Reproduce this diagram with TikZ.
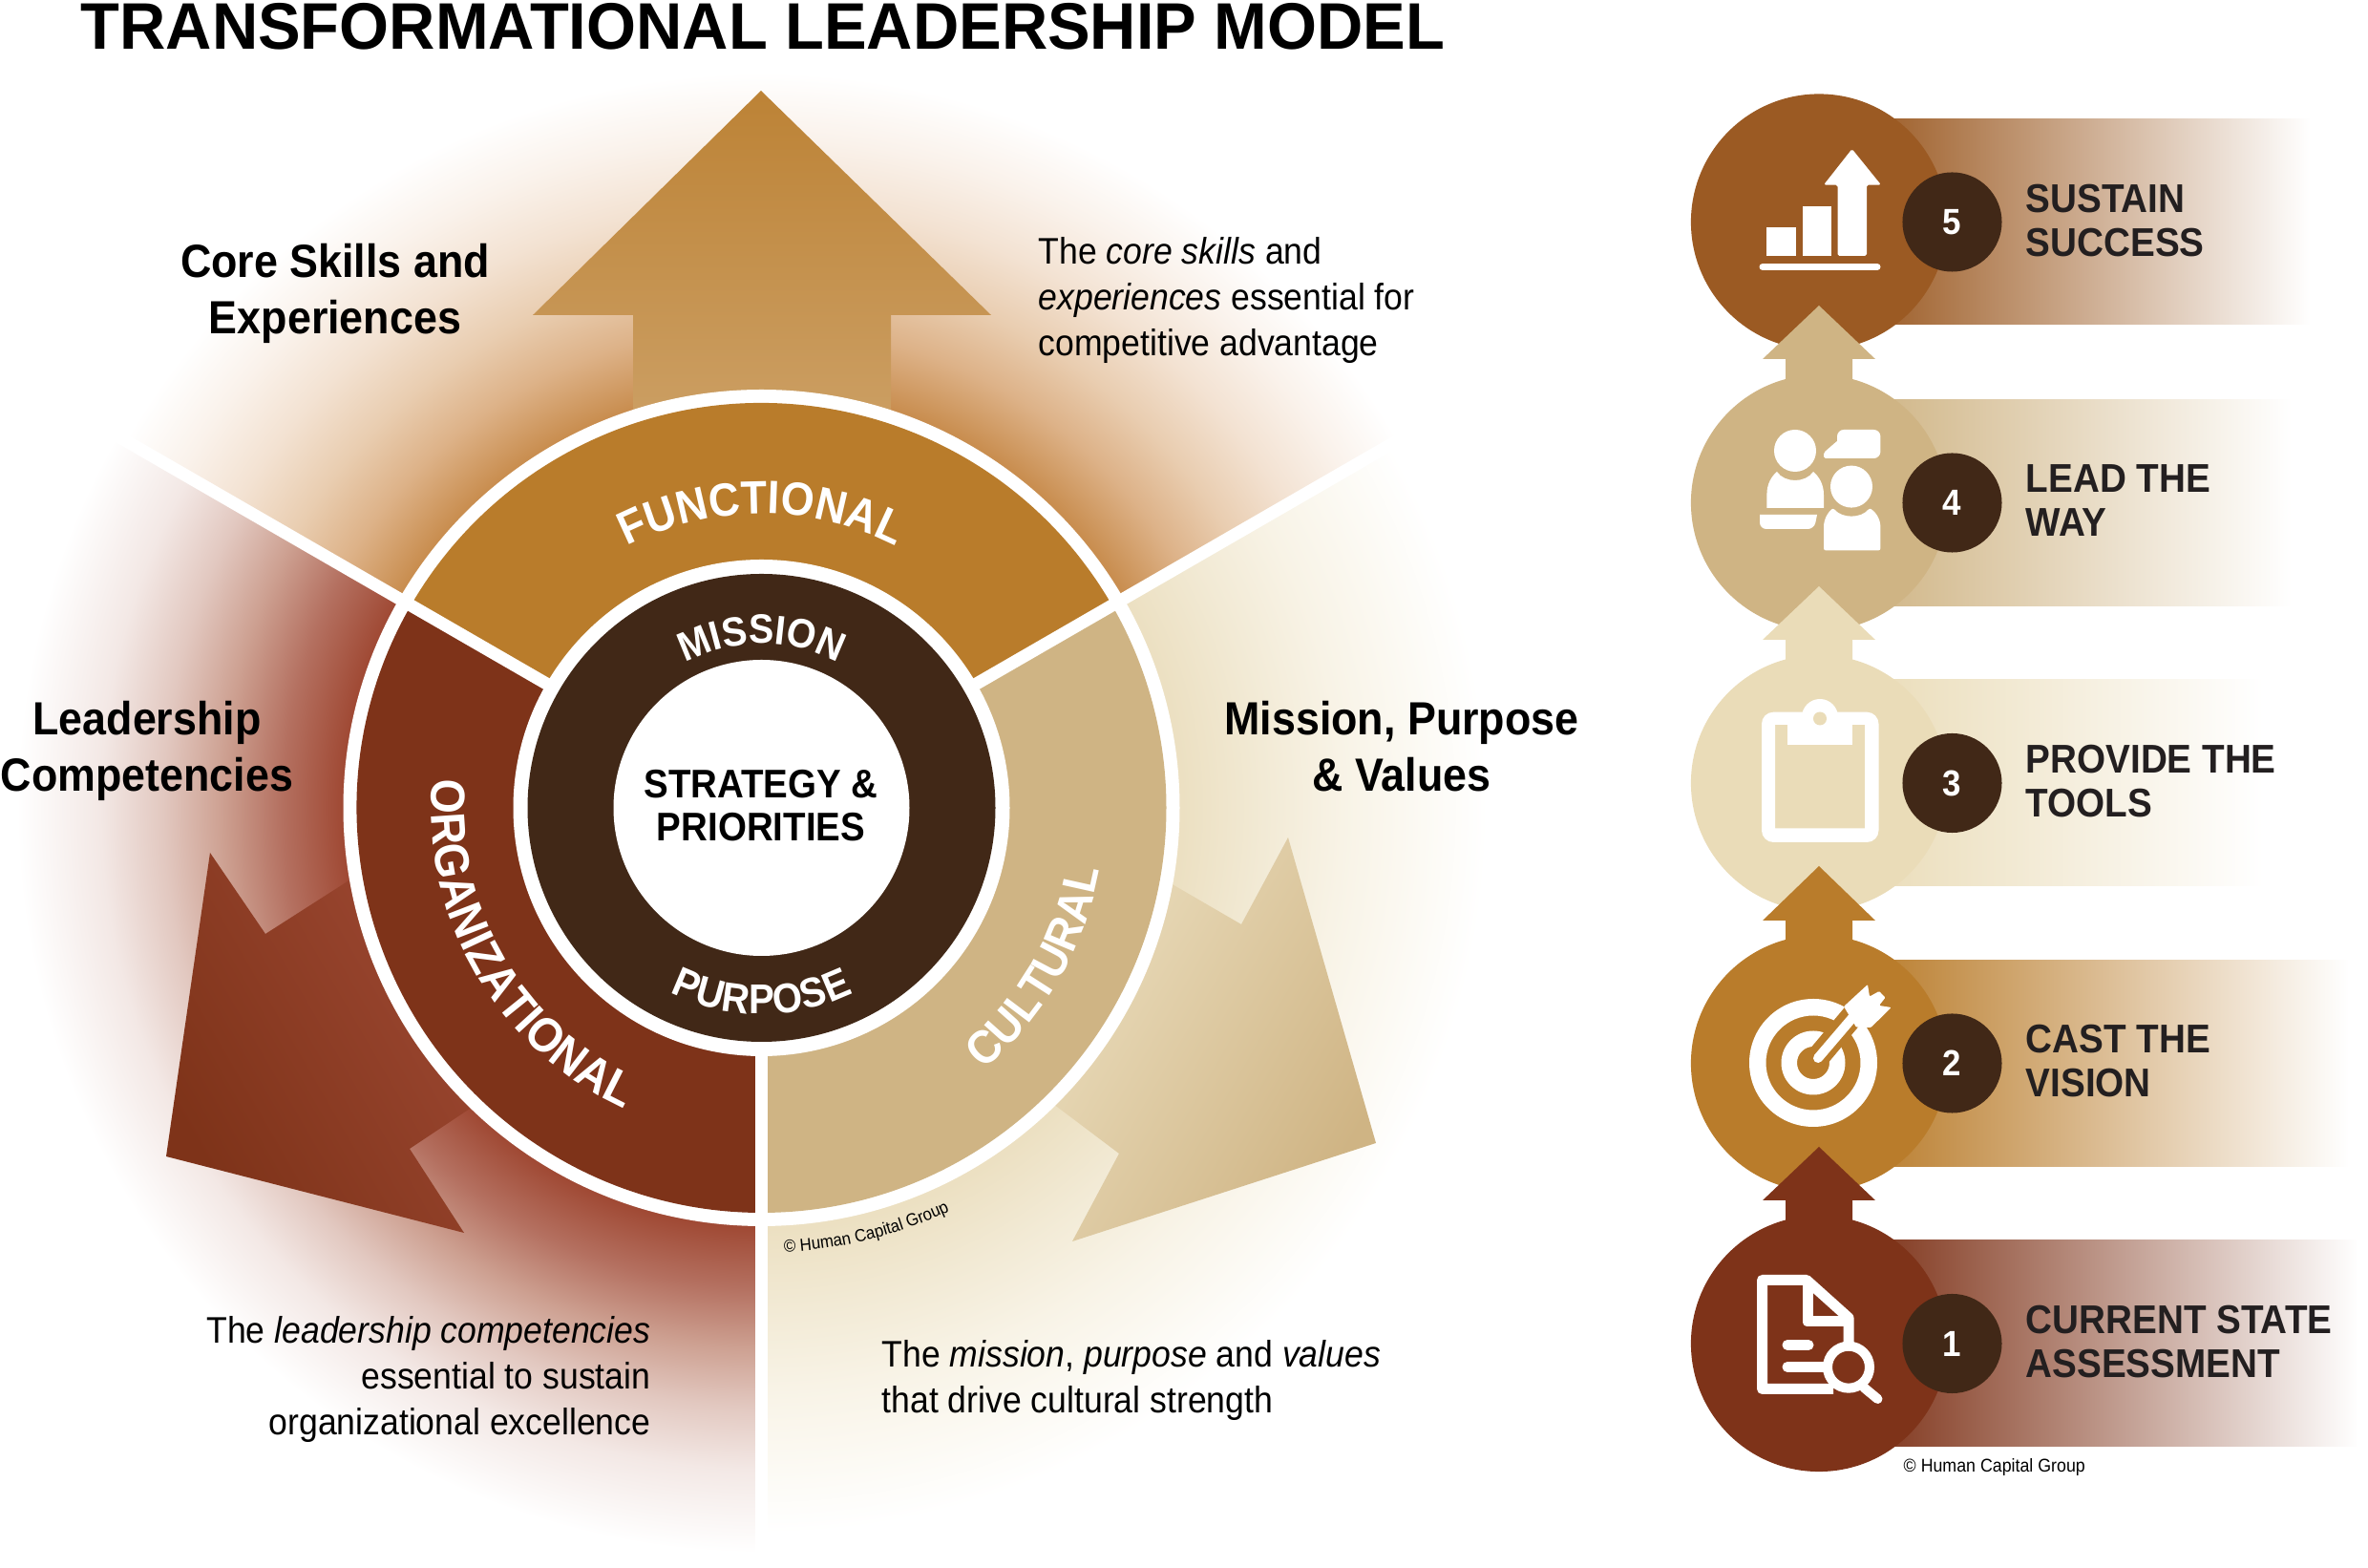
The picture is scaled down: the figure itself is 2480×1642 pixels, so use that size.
\documentclass[tikz,border=0pt]{standalone}
\usepackage{fontspec}
\setmainfont{Liberation Sans}[FakeStretch=0.92]
\newfontfamily\titlefont{Liberation Sans}[FakeStretch=0.97]
\usetikzlibrary{decorations.text}
\definecolor{clay}{HTML}{7E3319}
\definecolor{ochre}{HTML}{B97C2B}
\definecolor{sand}{HTML}{CFB484}
\definecolor{cream}{HTML}{EADCB8}
\definecolor{rust}{HTML}{9B5A23}
\definecolor{cocoa}{HTML}{412817}
\definecolor{ink}{HTML}{231F20}
\definecolor{fa}{HTML}{C98E50}
\definecolor{fb}{HTML}{DDB288}
\definecolor{fc}{HTML}{E9CDB0}
\definecolor{fd}{HTML}{F3E2D2}
\definecolor{fe}{HTML}{FAF2EB}
\definecolor{oa}{HTML}{A04A35}
\definecolor{ob}{HTML}{B47060}
\definecolor{oc}{HTML}{CDA091}
\definecolor{od}{HTML}{E2C8C0}
\definecolor{oe}{HTML}{F3E8E5}
\definecolor{ca}{HTML}{ECE0C2}
\definecolor{cb}{HTML}{F2EAD5}
\definecolor{cc}{HTML}{F8F3E6}
\definecolor{cd}{HTML}{FCFAF4}
\pgfdeclareradialshading{functionalfade}{\pgfpointorigin}{color(0bp)=(fa); color(14.3bp)=(fa); color(16.4bp)=(fb); color(18.4bp)=(fc); color(20.6bp)=(fd); color(22.8bp)=(fe); color(25bp)=(white); color(50bp)=(white)}
\pgfdeclareradialshading{organizationalfade}{\pgfpointorigin}{color(0bp)=(oa); color(14.1bp)=(oa); color(16.1bp)=(ob); color(18.1bp)=(oc); color(20.1bp)=(od); color(22.2bp)=(oe); color(25bp)=(white); color(50bp)=(white)}
\pgfdeclareradialshading{culturalfade}{\pgfpointorigin}{color(0bp)=(ca); color(14.5bp)=(ca); color(17.3bp)=(cb); color(20bp)=(cc); color(22.8bp)=(cd); color(25bp)=(white); color(50bp)=(white)}
\newcommand{\ringfont}[1]{\color{white}\bfseries\fontsize{#1}{16}\selectfont}
\newcommand{\hubfont}[1]{\color{white}\bfseries\fontsize{#1}{13}\selectfont}
\newcommand{\notefont}[1]{\fontsize{#1}{6}\selectfont}

\begin{document}
\begin{tikzpicture}[x=0.01cm,y=0.01cm]

    % Define styles
    \tikzstyle{imgframe} = [shift={(0,1642)},yscale=-1]
    \tikzstyle{title} = [anchor=base west, inner sep=0, font=\titlefont\bfseries\fontsize{19.6}{22}\selectfont]
    \tikzstyle{heading} = [anchor=base, inner sep=0, align=center, font=\bfseries\fontsize{13.85}{16.9}\selectfont]
    \tikzstyle{body} = [anchor=base west, inner sep=0, align=left, font=\fontsize{11}{13.66}\selectfont]
    \tikzstyle{bodyright} = [anchor=base east, inner sep=0, align=right, font=\fontsize{11}{13.66}\selectfont]
    \tikzstyle{center} = [anchor=base, inner sep=0, align=center, font=\bfseries\fontsize{11.9}{13}\selectfont]
    \tikzstyle{stepball} = [circle, inner sep=0, minimum size=2.68cm]
    \tikzstyle{badge} = [circle, fill=cocoa, text=white, inner sep=0, minimum size=1.04cm, font=\bfseries\fontsize{10.8}{12}\selectfont]
    \tikzstyle{steplabel} = [anchor=base west, inner sep=0, align=left, text=ink, font=\bfseries\fontsize{11.95}{13.2}\selectfont]

    \useasboundingbox (0,0) rectangle (2480,1642);

    % Wheel backgrounds
    \begin{scope}[shift={(797.5,796)}]
        \begin{scope}
            \clip (0,0) -- (30:1200) arc (30:150:1200) -- cycle;
            \shade[shading=functionalfade] (0,0) circle (770);
        \end{scope}
        \begin{scope}
            \clip (0,0) -- (150:1200) arc (150:270:1200) -- cycle;
            \shade[shading=organizationalfade] (0,0) circle (780);
        \end{scope}
        \begin{scope}
            \clip (0,0) -- (270:1200) arc (270:390:1200) -- cycle;
            \shade[shading=culturalfade] (0,0) circle (760);
        \end{scope}
    \end{scope}

    % Big arrows
    \begin{scope}[imgframe]
        \shade[top color=ochre!95!white, bottom color=ochre!70!white] (797,95) -- (1038,330) -- (933,330) -- (933,500) -- (663,500) -- (663,330) -- (558,330) -- cycle;
        \shade[top color=clay, bottom color=oa, shading angle=120] (174,1211) -- (220,893) -- (278,978) -- (450,868) -- (543,1127) -- (429,1203) -- (486,1291) -- cycle;
        \shade[top color=sand, bottom color=cream!85!white, shading angle=-120] (1441,1197) -- (1349,877) -- (1300,968) -- (1150,881) -- (1050,1116) -- (1172,1208) -- (1123,1300) -- cycle;
    \end{scope}

    % Wheel
    \begin{scope}[shift={(797.5,796)}]
        \fill[white] (0,0) circle (438);
        \fill[ochre] (0,0) -- (30:424) arc (30:150:424) -- cycle;
        \fill[clay] (0,0) -- (150:424) arc (150:270:424) -- cycle;
        \fill[sand] (0,0) -- (270:424) arc (270:390:424) -- cycle;
        \draw[white, line width=0.13cm] (0,0) -- (30:800);
        \draw[white, line width=0.13cm] (0,0) -- (150:800);
        \draw[white, line width=0.13cm] (0,0) -- (270:800);
        \fill[white] (0,0) circle (260);
        \fill[cocoa] (0,0) circle (245);
        \fill[white] (0,0) circle (155);

        % Ring labels
        \path[decorate, decoration={text along path, text align=center, text={|\ringfont{13.9}|FUNCTIONAL}}] (150:308) arc (150:30:308);
        \path[decorate, decoration={text along path, text align=fit to path, text={|\ringfont{14.4}|ORGANIZATIONAL}}] (175:346) arc (175:245.5:346);
        \path[decorate, decoration={text along path, text align=center, text={|\ringfont{14}|CULTURAL}}] (270:360) arc (270:390:360);
        \path[decorate, decoration={text along path, text align=center, text={|\hubfont{12.2}|MISSION}}] (150:172) arc (150:30:172);
        \path[decorate, decoration={text along path, text align=fit to path, text={|\hubfont{12.4}|PURPOSE}}] (243.6:216) arc (243.6:296.4:216);
        \path[decorate, decoration={text along path, text align=center, text={|\notefont{5.2}|© Human Capital Group}}] (-90:466) arc (-90:-62:466);
    \end{scope}

    % Wheel texts
    \begin{scope}[imgframe]
        \node[title] (heading) at (84,52) {TRANSFORMATIONAL LEADERSHIP MODEL};
        \node[heading] (coreskills) at (351,350) {Core Skills and\\Experiences};
        \node[heading] (leadership) at (154,829) {Leadership\\Competencies};
        \node[heading] (mission) at (1468,829) {Mission, Purpose\\\& Values};
        \node[body] (corenote) at (1087,373) {The \textit{core skills} and\\\textit{experiences} essential for\\competitive advantage};
        \node[bodyright] (leadnote) at (682,1503) {The \textit{leadership competencies}\\essential to sustain\\organizational excellence};
        \node[body] (missionnote) at (923,1480) {The \textit{mission}, \textit{purpose} and \textit{values}\\that drive cultural strength};
        \node[center] (strategy) at (797,881) {STRATEGY \&\\PRIORITIES};

        % Step 5
        \shade[left color=rust, middle color=rust!33!white, right color=white] (1950,125) rectangle (2420,340);
        \node[stepball, fill=rust] (ball5) at (1905,232.5) {};
        % Step 4
        \fill[sand] (1905,320) -- (1964,376) -- (1940,376) -- (1940,400) -- (1870,400) -- (1870,376) -- (1846,376) -- cycle;
        \shade[left color=sand, middle color=sand!40!white, right color=white] (1950,418.5) rectangle (2400,634.5);
        \node[stepball, fill=sand] (ball4) at (1905,526.5) {};
        % Step 3
        \fill[cream] (1905,614) -- (1964,670) -- (1940,670) -- (1940,694) -- (1870,694) -- (1870,670) -- (1846,670) -- cycle;
        \shade[left color=cream, middle color=cream!40!white, right color=white] (1950,712) rectangle (2370,928);
        \node[stepball, fill=cream] (ball3) at (1905,820) {};
        % Step 2
        \fill[ochre] (1905,907) -- (1964,964) -- (1940,964) -- (1940,988) -- (1870,988) -- (1870,964) -- (1846,964) -- cycle;
        \shade[left color=ochre, middle color=ochre!40!white, right color=white] (1950,1005.5) rectangle (2460,1221.5);
        \node[stepball, fill=ochre] (ball2) at (1905,1113.5) {};
        % Step 1
        \fill[clay] (1905,1201) -- (1964,1257) -- (1940,1257) -- (1940,1281) -- (1870,1281) -- (1870,1257) -- (1846,1257) -- cycle;
        \shade[left color=clay, middle color=clay!33!white, right color=white] (1950,1299) rectangle (2470,1515);
        \node[stepball, fill=clay] (ball1) at (1905,1407) {};

        % Badges
        \node[badge] (badge5) at (2044.5,232.5) {5};
        \node[badge] (badge4) at (2044.5,526.5) {4};
        \node[badge] (badge3) at (2044.5,820) {3};
        \node[badge] (badge2) at (2044.5,1113.5) {2};
        \node[badge] (badge1) at (2044.5,1407) {1};

        % Step labels
        \node[steplabel] (label5) at (2121,268.5) {SUSTAIN\\SUCCESS};
        \node[steplabel] (label4) at (2121,562) {LEAD THE\\WAY};
        \node[steplabel] (label3) at (2121,855.5) {PROVIDE THE\\TOOLS};
        \node[steplabel] (label2) at (2121,1149) {CAST THE\\VISION};
        \node[steplabel] (label1) at (2121,1442.5) {CURRENT STATE\\ASSESSMENT};
        \node[anchor=base west, inner sep=0, font=\notefont{5.5}] (copyright) at (1993,1542) {© Human Capital Group};

        % Icon 5 chart
        \fill[white] (1850,268) rectangle (1880.6,238);
        \fill[white] (1888,268) rectangle (1918,216);
        \fill[white, rounded corners=0.5pt] (1924.5,268) -- (1924.5,193.6) -- (1910,193.6) -- (1939.6,156) -- (1970,193.6) -- (1955,193.6) -- (1955,268) -- cycle;
        \draw[white, line width=0.07cm, line cap=round] (1846,279.5) -- (1966,279.5);

        % Icon 4 people
        \fill[white] (1880,472) circle (22);
        \fill[white] (1939,509.6) circle (22);
        \fill[white] (1850.4,532) -- (1850.4,518) .. controls (1850.4,507) and (1855,499) .. (1861,494) .. controls (1869,506) and (1891,506) .. (1899,494) .. controls (1905,499) and (1910,507) .. (1910,518) -- (1910,532) -- cycle;
        \fill[white, rounded corners=0.6pt] (1910,576.4) -- (1910,554) .. controls (1910,543) and (1915,536) .. (1920,532) .. controls (1929,543) and (1949,543) .. (1958,532) .. controls (1964,536) and (1969.4,543) .. (1969.4,554) -- (1969.4,576.4) -- cycle;
        \fill[white, rounded corners=1.9pt] (1843,539) -- (1843,554) -- (1900,554) [sharp corners] -- (1903,539) -- cycle;
        \fill[white, rounded corners=2pt] (1924,450) rectangle (1969.4,480);
        \fill[white, rounded corners=0.5pt] (1925,461) -- (1910,474) -- (1910,480) -- (1935,480) -- cycle;

        % Icon 3 clipboard
        \fill[white, rounded corners=3.5pt, even odd rule] (1845,745.7) rectangle (1967.5,882) [sharp corners] (1859,759) rectangle (1953,867.5);
        \fill[white] (1872,759) rectangle (1940,779.6);
        \fill[white] (1906,751) circle (19);
        \fill[cream] (1906,752.5) circle (7);

        % Icon 2 target
        \fill[white, even odd rule] (1899,1113) circle (67) (1899,1113) circle (49.5) (1899,1113) circle (33.5) (1899,1113) circle (17);
        \draw[ochre, line width=0.24cm] (1899,1113) -- (1945,1058);
        \draw[white, line width=0.1cm, line cap=round] (1904,1108) -- (1945,1060);
        \fill[white, rounded corners=0.3pt] (1931,1054) -- (1956,1031) -- (1958,1043.6) -- (1968,1038) -- (1974.5,1044.6) -- (1968,1053) -- (1980.7,1055) -- (1959.4,1076) -- (1944,1075.7) -- cycle;

        % Icon 1 document
        \draw[white, line width=0.11cm, line join=round] (1936,1410) -- (1936,1380) -- (1892,1340.5) -- (1845.5,1340.5) -- (1845.5,1454.5) -- (1920,1454.5);
        \draw[white, line width=0.11cm, line join=round] (1893,1342) -- (1893,1384) -- (1936,1384);
        \draw[white, line width=0.11cm, line cap=round] (1872,1408.5) -- (1894,1408.5);
        \draw[white, line width=0.11cm, line cap=round] (1872,1431.5) -- (1912,1431.5);
        \draw[white, line width=0.1cm, fill=clay] (1936,1431.7) circle (22);
        \draw[white, line width=0.1cm, line cap=round] (1952,1453) -- (1966.5,1465);
    \end{scope}

\end{tikzpicture}
\end{document}
